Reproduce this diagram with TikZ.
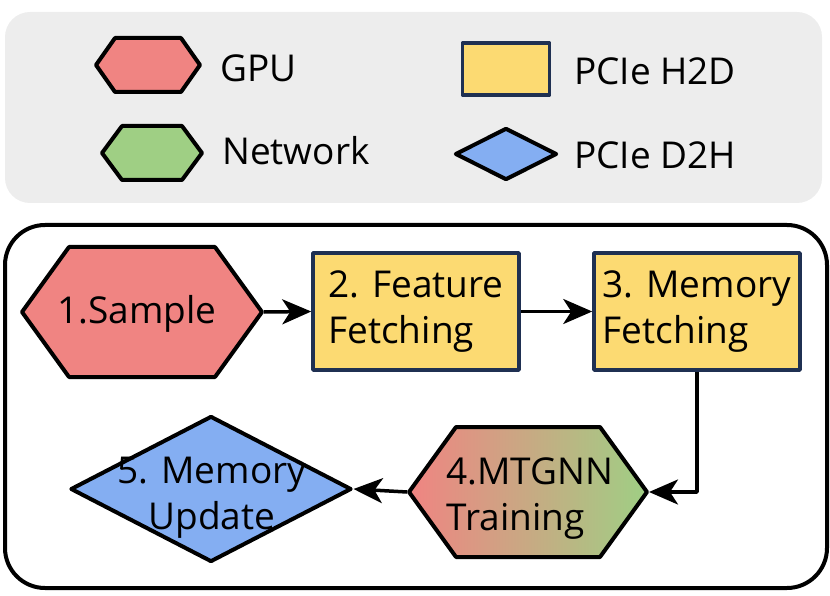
\documentclass[tikz,border=0pt]{standalone}
\usepackage{fontspec}
\setmainfont{Open Sans}
\usetikzlibrary{shapes.geometric,arrows.meta}

\definecolor{gpured}{HTML}{F08482}
\definecolor{netgreen}{HTML}{9FCF84}
\definecolor{salmon}{HTML}{F4A58A}
\definecolor{hdyellow}{HTML}{FCDA72}
\definecolor{dhblue}{HTML}{84AEF2}
\definecolor{navy}{HTML}{1F3052}
\definecolor{panel}{HTML}{EDEDED}

% hexagon: style, centre x, centre y, half width, half height, tip inset
\newcommand{\hexpath}[6]{%
  \path[#1] ({#2-#4},#3) -- ({#2-#4+#6},{#3-#5}) -- ({#2+#4-#6},{#3-#5})
    -- ({#2+#4},#3) -- ({#2+#4-#6},{#3+#5}) -- ({#2-#4+#6},{#3+#5}) -- cycle;}

\tikzset{
  hexline/.style={draw=black,line width=4pt},
  hexbox/.style={rectangle,inner sep=0pt,outer sep=2pt},
  h2d/.style={rectangle,fill=hdyellow,draw=navy,line width=3.5pt,inner sep=0pt,align=left},
  d2h/.style={diamond,fill=dhblue,draw=black,line width=4pt,inner sep=0pt},
  leg/.style={anchor=west,inner sep=0pt},
  txt/.style={inner sep=0pt},
  flow/.style={line width=3.5pt,-{Stealth[length=29pt,width=25pt,inset=8pt]}}
}

\begin{document}
\begin{tikzpicture}[x=1pt,y=-1pt,font=\fontsize{37}{46}\selectfont,line join=round]
    \useasboundingbox (0,0) rectangle (830,596);
    % legend
    \fill[panel,rounded corners=25pt] (5,12) rectangle (822,203);
    \hexpath{hexline,fill=gpured}{148}{65}{52}{27}{19}
    \node[hexbox,minimum width=104pt,minimum height=54pt] (lgpu) at (148,65) {};
    \node[leg] (tgpu) at (220,68) {GPU};
    \hexpath{hexline,fill=netgreen}{152}{153}{50}{27}{20}
    \node[hexbox,minimum width=100pt,minimum height=54pt] (lnet) at (152,153) {};
    \node[leg] (tnet) at (222,151) {Network};
    \node[h2d,minimum width=87pt,minimum height=52pt] (lh2d) at (506,69) {};
    \node[leg] (th2d) at (574,71) {PCIe H2D};
    \node[d2h,minimum width=102pt,minimum height=52pt] (ld2h) at (506,154) {};
    \node[leg] (td2h) at (574,155) {PCIe D2H};
    % pipeline
    \draw[line width=4pt,rounded corners=40pt] (5,225) rectangle (827,588);
    \hexpath{hexline,fill=gpured}{142}{312}{120}{65}{47}
    \node[hexbox,minimum width=240pt,minimum height=130pt] (sample) at (142,312) {};
    \node[txt] (tsample) at (137,314) {1.Sample};
    \node[h2d,minimum width=206pt,minimum height=117pt] (feat) at (416,311.5) {2. Feature\\Fetching};
    \node[h2d,minimum width=206pt,minimum height=117pt] (mem) at (697,311.5) {3. Memory\\Fetching};
    \hexpath{hexline,left color=gpured,middle color=salmon,right color=netgreen}{528}{492}{119}{65}{47}
    \node[hexbox,minimum width=238pt,minimum height=130pt] (train) at (528,492) {};
    \node[txt,align=left] (ttrain) at (530,499) {4.MTGNN\\Training};
    \node[d2h,minimum width=281pt,minimum height=146pt] (upd) at (211,489) {};
    \node[txt,align=center] (tupd) at (212,498) {5. Memory\\Update};
    \draw[flow] (sample.east) -- (feat.west);
    \draw[flow] (feat.east) -- (mem.west);
    \draw[flow] (mem.south) |- (train.east);
    \draw[flow] (train.west) -- (upd.east);
\end{tikzpicture}
\end{document}
